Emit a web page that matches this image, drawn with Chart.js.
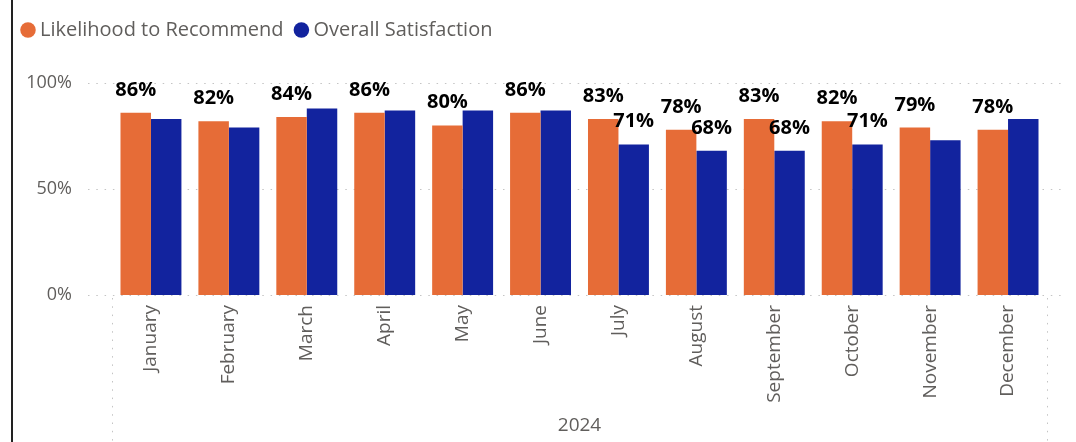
<!DOCTYPE html>
<html>
<head>
<meta charset="utf-8">
<script src="https://cdn.jsdelivr.net/npm/chart.js@4.4.1/dist/chart.umd.min.js"></script>
<style>
  html, body { margin: 0; padding: 0; background: #ffffff; }
  #wrap { width: 1076px; height: 442px; position: relative; }
</style>
</head>
<body>
<div id="wrap"><canvas id="c" width="1076" height="442"></canvas></div>
<script>
// ---- Data ----
const categories = ['January', 'February', 'March', 'April', 'May', 'June',
                    'July', 'August', 'September', 'October', 'November', 'December'];
const yearLabel = '2024';
const seriesNames = ['Likelihood to Recommend', 'Overall Satisfaction'];
const likelihoodValues   = [86, 82, 84, 86, 80, 86, 83, 78, 83, 82, 79, 78];
const satisfactionValues = [83, 79, 88, 87, 87, 87, 71, 68, 68, 71, 73, 83];
const likelihoodLabelShown   = [true, true, true, true, true, true, true, true, true, true, true, true];
const satisfactionLabelShown = [false, false, false, false, false, false, true, true, true, true, false, false];
const yTickValues = [0, 50, 100];

// ---- Styles ----
const FONT = "'Open Sans', 'Noto Sans', sans-serif";
const ORANGE = '#E66C37';
const BLUE = '#12239E';
const AXIS_TEXT = '#605E5C';
const GRID = '#c4c4c4';

const framePlugin = {
  id: 'frame',
  beforeInit(chart) {
    const origFit = chart.legend.fit;
    chart.legend.fit = function () {
      origFit.call(this);
      this.height += 33;
    };
  },
  beforeDraw(chart) {
    const ctx = chart.ctx;
    ctx.save();
    ctx.fillStyle = '#ffffff';
    ctx.fillRect(0, 0, chart.width, chart.height);
    ctx.fillStyle = '#222222';
    ctx.fillRect(11, 0, 2, chart.height);
    ctx.restore();
  },
  beforeDatasetsDraw(chart) {
    const ctx = chart.ctx;
    const area = chart.chartArea;
    const y = chart.scales.y;
    ctx.save();
    ctx.strokeStyle = GRID;
    ctx.lineWidth = 1;
    ctx.setLineDash([1.5, 6.8]);
    yTickValues.forEach(v => {
      const py = Math.round(y.getPixelForValue(v)) + 0.5;
      ctx.beginPath();
      ctx.moveTo(area.left - 24, py);
      ctx.lineTo(area.right + 16, py);
      ctx.stroke();
    });
    [area.left, area.right].forEach(px => {
      const x = Math.round(px) + 0.5;
      ctx.beginPath();
      ctx.moveTo(x, area.bottom + 3);
      ctx.lineTo(x, chart.height);
      ctx.stroke();
    });
    ctx.restore();
  },
  afterDatasetsDraw(chart) {
    const ctx = chart.ctx;
    ctx.save();
    ctx.font = 'bold 20px ' + FONT;
    ctx.fillStyle = '#000000';
    ctx.textAlign = 'center';
    ctx.textBaseline = 'alphabetic';
    chart.data.datasets.forEach((ds, di) => {
      const meta = chart.getDatasetMeta(di);
      meta.data.forEach((bar, i) => {
        if (!ds.labelShown[i]) return;
        ctx.fillText(ds.data[i] + '%', bar.x, bar.y - 17);
      });
    });
    ctx.restore();
  }
};

new Chart(document.getElementById('c'), {
  type: 'bar',
  data: {
    labels: categories,
    datasets: [
      { label: seriesNames[0], data: likelihoodValues, backgroundColor: ORANGE,
        labelShown: likelihoodLabelShown, categoryPercentage: 0.782, barPercentage: 1.0 },
      { label: seriesNames[1], data: satisfactionValues, backgroundColor: BLUE,
        labelShown: satisfactionLabelShown, categoryPercentage: 0.782, barPercentage: 1.0 }
    ]
  },
  options: {
    responsive: false,
    animation: false,
    devicePixelRatio: 1,
    layout: { padding: { left: 10, right: 29, top: 4, bottom: 5 } },
    plugins: {
      legend: {
        position: 'top',
        align: 'start',
        labels: {
          usePointStyle: true,
          pointStyle: 'circle',
          boxWidth: 4,
          boxHeight: 11,
          padding: 16,
          color: AXIS_TEXT,
          font: { family: FONT, size: 20 }
        }
      },
      tooltip: { enabled: false }
    },
    scales: {
      x: {
        grid: { display: false, drawTicks: false },
        border: { display: false },
        ticks: {
          autoSkip: false, minRotation: 90, maxRotation: 90, padding: 10,
          color: AXIS_TEXT, font: { family: FONT, size: 19 }
        },
        title: {
          display: true, text: yearLabel, color: AXIS_TEXT,
          font: { family: FONT, size: 19 }, padding: { top: 0, bottom: 0 }
        },
        afterFit(scale) { scale.height = 142; }
      },
      y: {
        min: 0, max: 100,
        grid: { display: false, drawTicks: false },
        border: { display: false },
        afterBuildTicks(scale) { scale.ticks = yTickValues.map(v => ({ value: v })); },
        ticks: {
          padding: 40, color: AXIS_TEXT, font: { family: FONT, size: 18 },
          callback: v => v + '%'
        },
        afterFit(scale) { scale.width = 102; }
      }
    }
  },
  plugins: [framePlugin]
});
</script>
</body>
</html>
